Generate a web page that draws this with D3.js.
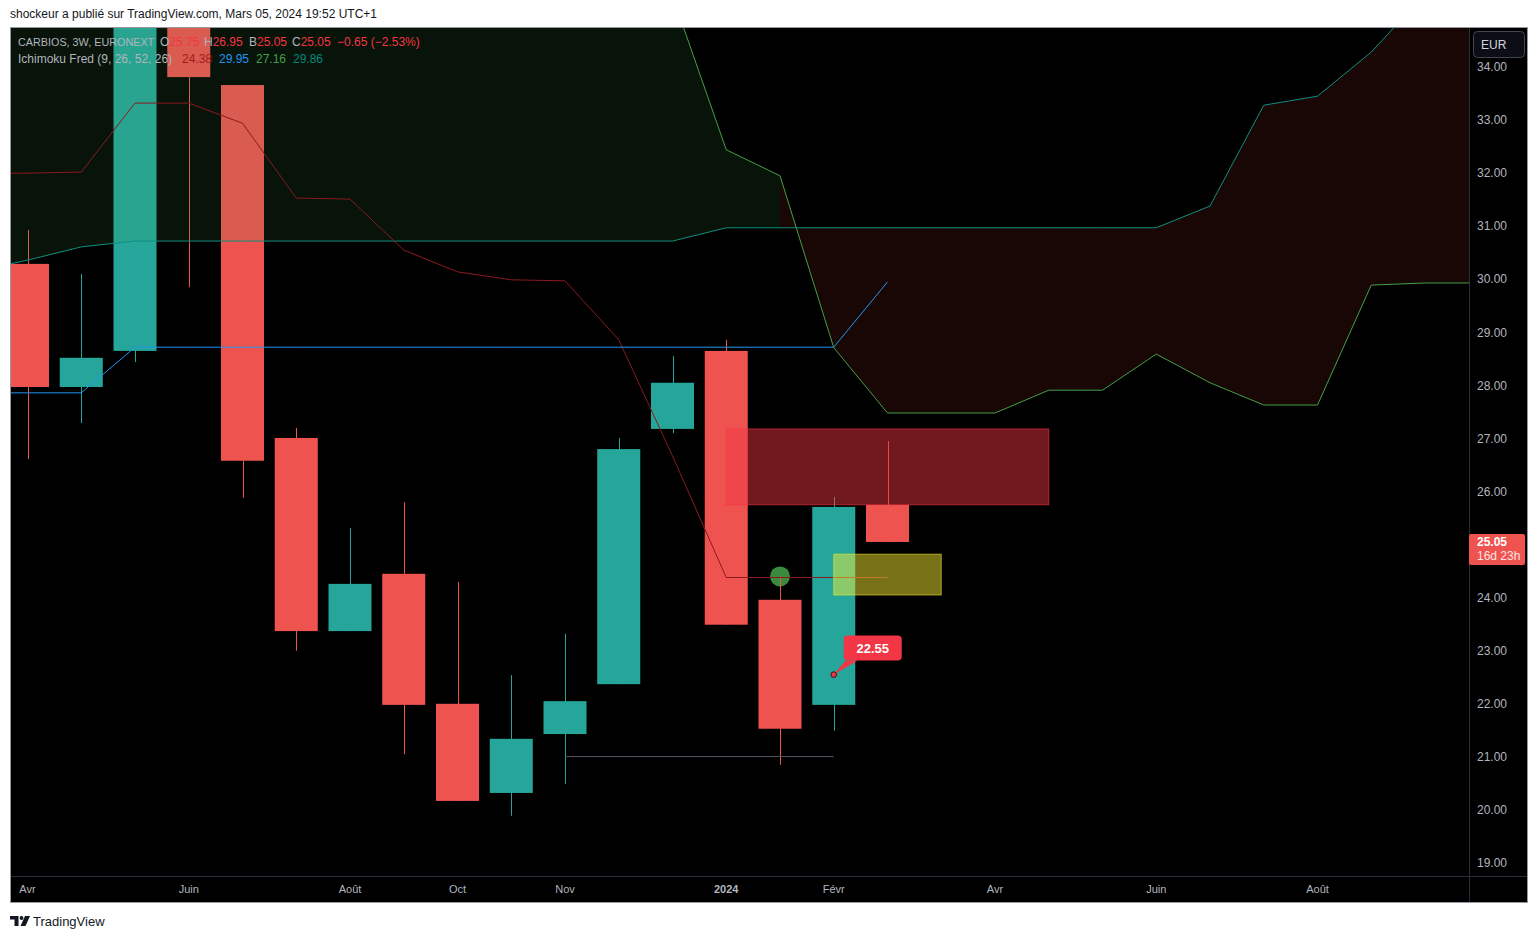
<!DOCTYPE html>
<html><head><meta charset="utf-8">
<script src="https://cdn.jsdelivr.net/npm/d3@7"></script>
<style>
body{margin:0;background:#fff;}
svg{display:block;font-family:"Liberation Sans",Arial,sans-serif;}
</style>
</head><body>
<svg id="c" width="1539" height="939"></svg>
<script>
// ---------------- DATA ----------------
const candleIdx = d3.range(0, 17);
const opens  = [30.29,27.97,28.65,35.60,33.66,27.01,23.37,24.45,22.00,20.32,21.43,22.37,27.18,28.65,23.96,21.98,25.75];
const highs  = [30.93,30.10,36.20,36.80,33.66,27.20,25.31,25.80,24.30,22.54,23.32,27.01,28.55,28.86,24.40,25.90,26.95];
const lows   = [26.61,27.29,28.44,29.85,25.88,23.00,23.37,21.05,20.17,19.89,20.49,22.37,27.10,23.49,20.85,21.49,25.05];
const closes = [27.97,28.52,35.60,33.81,26.58,23.37,24.26,21.98,20.17,21.34,22.05,26.80,28.05,23.49,21.53,25.71,25.05];

// Ichimoku lines (index -1 .. 27)
const cloudIdx = d3.range(-1, 28);
const spanA = [36.6,36.6,36.8,37.0,37.2,37.2,37.0,36.8,36.5,36.2,36.0,35.8,35.6,35.34,32.44,31.95,28.71,27.48,27.48,27.48,27.91,27.91,28.59,28.05,27.63,27.63,29.89,29.93,29.93];
const spanB = [30.14,30.36,30.61,30.72,30.72,30.72,30.72,30.72,30.72,30.72,30.72,30.72,30.72,30.72,30.97,30.97,30.97,30.97,30.97,30.97,30.97,30.97,30.97,31.38,33.28,33.45,34.28,35.38,35.60];
const baseIdx = d3.range(-1, 17);
const kijun  = [32.00,32.00,32.02,33.32,33.32,32.94,31.53,31.51,30.55,30.14,29.99,29.97,28.86,26.67,24.38,24.38,24.38,24.38];
const tenkan = [27.86,27.86,27.86,28.72,28.72,28.72,28.72,28.72,28.72,28.72,28.72,28.72,28.72,28.72,28.72,28.72,28.72,29.95];

// Annotations (bar index / price)
const zoneRed   = {i0:13, i1:19, top:27.18, bottom:25.75};
const zoneYel   = {i0:15, i1:17, top:24.82, bottom:24.05};
const supportLn = {i0:10, i1:15, price:21.02};
const dotMark   = {i:14, price:24.40};
const callout   = {i:15, price:22.55, text:"22.55"};
const lastPrice = {price:25.05, text:"25.05", sub:"16d 23h"};

// Legend texts
const legend1 = [
  {k:"", t:"CARBIOS, 3W, EURONEXT", c:"#b2b5be", x:18, fs:10.8},
  {k:"O", t:"25.75", c:"#f23645", x:160},
  {k:"H", t:"26.95", c:"#f23645", x:204},
  {k:"B", t:"25.05", c:"#f23645", x:249},
  {k:"C", t:"25.05", c:"#f23645", x:292},
  {k:"", t:"−0.65 (−2.53%)", c:"#f23645", x:337}
];
const legend2 = [
  {t:"Ichimoku Fred (9, 26, 52, 26)", c:"#b2b5be", x:18},
  {t:"24.38", c:"#a11d1d", x:182},
  {t:"29.95", c:"#2196f3", x:219},
  {t:"27.16", c:"#43a047", x:256},
  {t:"29.86", c:"#00897b", x:293}
];

// Axis ticks
const yTickValues = d3.range(19, 35, 1);
const xTickIdx    = [0, 3, 6, 8, 10, 13, 15, 18, 21, 24, 27.8];
const xTickLabels = ["Avr","Juin","Août","Oct","Nov","2024","Févr","Avr","Juin","Août","Oct"];
const xTickBold   = [false,false,false,false,false,true,false,false,false,false,false];

const headerText = "shockeur a publié sur TradingView.com, Mars 05, 2024 19:52 UTC+1";

// ---------------- LAYOUT ----------------
const L = 10, T = 27, PR = 1469, PB = 876, R = 1528, B = 903;
const UP = "#26a69a", DN = "#ef5350", GR = "#b2b5be";

const x = d3.scaleLinear().domain([0, 16]).range([27.5, 27.5 + 16 * 53.75]);
const y = d3.scaleLinear().domain([19, 34]).range([863, 67]);
const bodyW = 43;

const svg = d3.select("#c");

svg.append("text").attr("x", 10).attr("y", 18).attr("font-size", 12).attr("fill", "#131722").text(headerText);

svg.append("rect").attr("x", L).attr("y", T).attr("width", R - L).attr("height", B - T).attr("fill", "#000");

const defs = svg.append("defs");
defs.append("clipPath").attr("id", "plot").append("rect").attr("x", L).attr("y", T).attr("width", PR - L).attr("height", PB - T);
defs.append("clipPath").attr("id", "xax").append("rect").attr("x", L).attr("y", PB).attr("width", PR - L).attr("height", B - PB);

const g = svg.append("g").attr("clip-path", "url(#plot)");

// green dot (behind candles)
g.append("circle").attr("cx", x(dotMark.i)).attr("cy", y(dotMark.price)).attr("r", 10).attr("fill", "#3a8b3e");

// candles
const cg = g.append("g");
candleIdx.forEach((i) => {
  const o = opens[i], c = closes[i], hi = highs[i], lo = lows[i];
  const col = c >= o ? UP : DN;
  const cx = Math.round(x(i)) + 0.5;
  cg.append("line").attr("x1", cx).attr("x2", cx).attr("y1", y(hi)).attr("y2", y(lo)).attr("stroke", col).attr("stroke-width", 1);
  const top = y(Math.max(o, c)), bot = y(Math.min(o, c));
  cg.append("rect").attr("x", x(i) - bodyW / 2).attr("y", top).attr("width", bodyW).attr("height", Math.max(1, bot - top)).attr("fill", col);
});

// cloud fills
const area = d3.area().x(d => x(d.i)).y0(d => y(d.a)).y1(d => y(d.b));
const cloud = cloudIdx.map((i, k) => ({i, a: spanA[k], b: spanB[k]}));
g.append("path").datum(cloud.filter(d => d.i <= 14)).attr("d", area).attr("fill", "rgba(67,160,71,0.12)");
g.append("path").datum(cloud.filter(d => d.i >= 14)).attr("d", area).attr("fill", "rgba(244,67,54,0.10)");

// lines
const line = d3.line().x(d => x(d[0])).y(d => y(d[1]));
function drawLine(idx, vals, col) {
  g.append("path").datum(idx.map((i, k) => [i, vals[k]])).attr("d", line).attr("fill", "none").attr("stroke", col).attr("stroke-width", 1);
}
drawLine(cloudIdx, spanB, "#0f8f82");
drawLine(cloudIdx, spanA, "#43a047");
drawLine(baseIdx, kijun, "#8a1a1f");
drawLine(baseIdx, tenkan, "#2196f3");

// support line
g.append("line").attr("x1", x(supportLn.i0)).attr("x2", x(supportLn.i1))
  .attr("y1", Math.round(y(supportLn.price)) + 0.5).attr("y2", Math.round(y(supportLn.price)) + 0.5)
  .attr("stroke", "#50535e").attr("stroke-width", 1);

// zones
g.append("rect").attr("x", x(zoneRed.i0)).attr("y", y(zoneRed.top)).attr("width", x(zoneRed.i1) - x(zoneRed.i0)).attr("height", y(zoneRed.bottom) - y(zoneRed.top))
  .attr("fill", "rgba(242,54,69,0.47)").attr("stroke", "rgba(242,54,69,0.6)").attr("stroke-width", 1);
g.append("rect").attr("x", x(zoneYel.i0)).attr("y", y(zoneYel.top)).attr("width", x(zoneYel.i1) - x(zoneYel.i0)).attr("height", y(zoneYel.bottom) - y(zoneYel.top))
  .attr("fill", "rgba(255,241,51,0.47)").attr("stroke", "rgba(255,241,51,0.55)").attr("stroke-width", 1);

// callout
{
  const px = x(callout.i), py = y(callout.price);
  const bx = px + 10, by = py - 39, bw = 58, bh = 25;
  g.append("path").attr("d", `M${px},${py} L${bx + 2},${by + bh} L${bx + 14},${by + bh} Z`).attr("fill", "#f23645");
  g.append("rect").attr("x", bx).attr("y", by).attr("width", bw).attr("height", bh).attr("rx", 4).attr("fill", "#f23645");
  g.append("text").attr("x", bx + bw / 2).attr("y", by + bh / 2).attr("dy", "0.36em").attr("text-anchor", "middle")
    .attr("font-size", 13).attr("font-weight", "bold").attr("fill", "#fff").text(callout.text);
  g.append("circle").attr("cx", px).attr("cy", py).attr("r", 2.8).attr("fill", "#f23645").attr("stroke", "#3a0a10").attr("stroke-width", 1);
}

// legend
const lg = g.append("g").attr("font-size", 12);
const l1 = lg.append("text").attr("y", 46);
legend1.forEach(d => {
  if (d.k) {
    l1.append("tspan").attr("x", d.x).attr("fill", GR).text(d.k);
    l1.append("tspan").attr("fill", d.c).text(d.t);
  } else {
    const s = l1.append("tspan").attr("x", d.x).attr("fill", d.c).text(d.t);
    if (d.fs) s.attr("font-size", d.fs);
  }
});
legend2.forEach(d => lg.append("text").attr("x", d.x).attr("y", 63).attr("fill", d.c).text(d.t));

// separators
svg.append("line").attr("x1", PR + 0.5).attr("x2", PR + 0.5).attr("y1", T).attr("y2", B).attr("stroke", "#2a2e39");
svg.append("line").attr("x1", L).attr("x2", R).attr("y1", PB + 0.5).attr("y2", PB + 0.5).attr("stroke", "#2a2e39");

// y axis
const ya = svg.append("g").attr("font-size", 12).attr("fill", GR);
yTickValues.forEach(v => {
  ya.append("text").attr("x", 1477).attr("y", y(v)).attr("dy", "0.35em").text(v.toFixed(2));
});

// EUR box
svg.append("rect").attr("x", 1473.5).attr("y", 31.5).attr("width", 51).attr("height", 26).attr("rx", 4).attr("fill", "#0c0e15").attr("stroke", "#434651");
svg.append("text").attr("x", 1481).attr("y", 45).attr("dy", "0.35em").attr("font-size", 12).attr("fill", "#d1d4dc").text("EUR");

// last price label
{
  const py = y(lastPrice.price);
  svg.append("rect").attr("x", PR).attr("y", py - 8).attr("width", 56).attr("height", 31).attr("rx", 2).attr("fill", DN);
  svg.append("text").attr("x", 1477).attr("y", py).attr("dy", "0.35em").attr("font-size", 12).attr("font-weight", "bold").attr("fill", "#fff").text(lastPrice.text);
  svg.append("text").attr("x", 1477).attr("y", py + 14).attr("dy", "0.35em").attr("font-size", 12).attr("fill", "#fde3e3").text(lastPrice.sub);
}

// x axis
const xa = svg.append("g").attr("clip-path", "url(#xax)").attr("font-size", 11).attr("fill", GR);
xTickIdx.forEach((i, k) => {
  xa.append("text").attr("x", x(i)).attr("y", 889).attr("dy", "0.35em").attr("text-anchor", "middle")
    .attr("font-weight", xTickBold[k] ? "bold" : "normal").text(xTickLabels[k]);
});

// outer border
svg.append("rect").attr("x", L + 0.5).attr("y", T + 0.5).attr("width", R - L - 1).attr("height", B - T - 1).attr("fill", "none").attr("stroke", "#9598a1");

// footer logo
const fg = svg.append("g").attr("fill", "#131722");
fg.append("path").attr("d", "M10,916 h8.5 v10 h-4 v-6.5 h-4.5 Z");
fg.append("circle").attr("cx", 21.5).attr("cy", 918).attr("r", 1.9);
fg.append("path").attr("d", "M25,916 h5 l-4.5,10 h-5 Z");
svg.append("text").attr("x", 33).attr("y", 926).attr("font-size", 13).attr("fill", "#131722").text("TradingView");
</script>
</body></html>
